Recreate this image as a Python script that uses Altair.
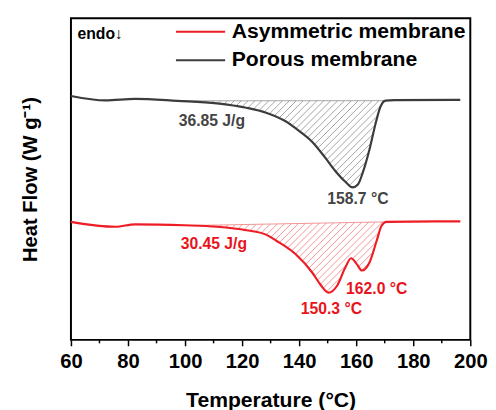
import numpy as np
import pandas as pd
import altair as alt

# ---------------- data ----------------
T_MIN, T_MAX = 60, 200
Y_MIN, Y_MAX = 0.0, 3.27
W, H = 406, 327

series_names = ["Asymmetric membrane", "Porous membrane"]
series_colors = ["#ee1c24", "#3c3c3c"]
hatch_colors = ["#f07a7a", "#8c8c8c"]

major_ticks = [60, 80, 100, 120, 140, 160, 180, 200]
minor_ticks = [70, 90, 110, 130, 150, 170, 190]

porous_T = [60, 72.1, 82.5, 97.3, 111.2, 121.5, 128.4, 135.4, 138.8, 144.7, 149.2,
            152.6, 156.1, 158.7, 160.6, 162.3, 164.7, 166.8, 168.5, 170.3, 173.4, 196.5]
porous_HF = [2.48, 2.435, 2.45, 2.43, 2.405, 2.36, 2.31, 2.22, 2.15, 2.01, 1.85,
             1.72, 1.61, 1.55, 1.58, 1.70, 1.94, 2.20, 2.37, 2.432, 2.437, 2.44]

asym_T = [60, 75.6, 82.5, 99.8, 111.2, 121.5, 128.4, 131.9, 138.8, 144.7, 147.5,
          150.3, 153.3, 156.1, 158.2, 160.2, 162.0, 164.7, 167.2, 168.9, 170.6, 196.5]
asym_HF = [1.20, 1.15, 1.175, 1.165, 1.15, 1.115, 1.07, 1.01, 0.87, 0.68, 0.56,
           0.48, 0.55, 0.73, 0.83, 0.77, 0.705, 0.79, 1.01, 1.16, 1.20, 1.205]

# integration baselines (start, end) for the hatched melting areas
porous_base_T = [97.3, 170.3]
porous_base_HF = [2.43, 2.432]
asym_base_T = [101.0, 170.6]
asym_base_HF = [1.162, 1.20]

label_text = ["36.85 J/g", "158.7 °C", "30.45 J/g", "162.0 °C", "150.3 °C"]
label_T = [109.4, 160.6, 110.1, 167.2, 151.3]
label_HF = [2.22, 1.43, 0.97, 0.52, 0.31]
label_color = ["#444444", "#444444", "#e8141c", "#e8141c", "#e8141c"]

FONT = "Liberation Sans"


# ---------------- helpers: d3 monotoneX interpolation, hatch lines ----------------
def monotone_tangents(x, y):
    x = np.asarray(x, float); y = np.asarray(y, float)
    h = np.diff(x); s = np.diff(y) / h
    n = len(x)
    t = np.zeros(n)
    for i in range(1, n - 1):
        p = (s[i - 1] * h[i] + s[i] * h[i - 1]) / (h[i - 1] + h[i])
        t[i] = (np.sign(s[i - 1]) + np.sign(s[i])) * min(abs(s[i - 1]), abs(s[i]), 0.5 * abs(p))
    t[0] = (3 * s[0] - t[1]) / 2
    t[-1] = (3 * s[-1] - t[-2]) / 2
    return t


def monotone_eval(x, y, xq):
    x = np.asarray(x, float); y = np.asarray(y, float)
    t = monotone_tangents(x, y)
    xq = np.asarray(xq, float)
    idx = np.clip(np.searchsorted(x, xq) - 1, 0, len(x) - 2)
    h = x[idx + 1] - x[idx]
    u = (xq - x[idx]) / h
    h00 = 2 * u**3 - 3 * u**2 + 1
    h10 = u**3 - 2 * u**2 + u
    h01 = -2 * u**3 + 3 * u**2
    h11 = u**3 - u**2
    return h00 * y[idx] + h10 * h * t[idx] + h01 * y[idx + 1] + h11 * h * t[idx + 1]


def to_px(T, HF):
    return (np.asarray(T) - T_MIN) / (T_MAX - T_MIN) * W, (Y_MAX - np.asarray(HF)) / (Y_MAX - Y_MIN) * H


def to_data(px, py):
    return T_MIN + np.asarray(px) / W * (T_MAX - T_MIN), Y_MAX - np.asarray(py) / H * (Y_MAX - Y_MIN)


def hatch_segments(cT, cHF, bT, bHF, spacing=7.0):
    xa, _ = to_px(bT[0], 0)
    xb, _ = to_px(bT[1], 0)
    xs = np.arange(xa, xb, 0.2)
    Ts, _ = to_data(xs, 0)
    yc = to_px(Ts, monotone_eval(cT, cHF, Ts))[1]
    yb = to_px(Ts, np.interp(Ts, bT, bHF))[1]
    segs = []
    cmin = xa + yb.min() - 5
    cmax = xb + yc.max() + 5
    for c in np.arange(cmin, cmax, spacing):
        yl = c - xs
        inside = (yl >= yb) & (yl <= yc)
        if not inside.any():
            continue
        d = np.diff(np.concatenate([[0], inside.astype(int), [0]]))
        starts = np.where(d == 1)[0]
        ends = np.where(d == -1)[0] - 1
        for s0, e0 in zip(starts, ends):
            if e0 - s0 < 2:
                continue
            T1, Y1 = to_data(xs[s0], yl[s0])
            T2, Y2 = to_data(xs[e0], yl[e0])
            segs.append((T1, Y1, T2, Y2))
    return segs


# ---------------- tables ----------------
curves = pd.concat([
    pd.DataFrame({"T": asym_T, "HF": asym_HF, "series": series_names[0], "order": range(len(asym_T))}),
    pd.DataFrame({"T": porous_T, "HF": porous_HF, "series": series_names[1], "order": range(len(porous_T))}),
])

hatch_rows = []
for name, col, cT, cHF, bT, bHF in [
    (series_names[0], hatch_colors[0], asym_T, asym_HF, asym_base_T, asym_base_HF),
    (series_names[1], hatch_colors[1], porous_T, porous_HF, porous_base_T, porous_base_HF),
]:
    for T1, Y1, T2, Y2 in hatch_segments(cT, cHF, bT, bHF):
        hatch_rows.append({"T1": T1, "Y1": Y1, "T2": T2, "Y2": Y2, "col": col})
hatch = pd.DataFrame(hatch_rows)

baselines = pd.DataFrame({
    "T1": [asym_base_T[0], porous_base_T[0]], "Y1": [asym_base_HF[0], porous_base_HF[0]],
    "T2": [asym_base_T[1], porous_base_T[1]], "Y2": [asym_base_HF[1], porous_base_HF[1]],
    "col": hatch_colors,
})

labels = pd.DataFrame({"T": label_T, "HF": label_HF, "text": label_text, "col": label_color})
endo = pd.DataFrame({"T": [62.3], "HF": [3.11], "text": ["endo↓"]})
minor = pd.DataFrame({"T": minor_ticks})

xscale = alt.Scale(domain=[T_MIN, T_MAX], nice=False, zero=False)
yscale = alt.Scale(domain=[Y_MIN, Y_MAX], nice=False, zero=False)

x_axis = alt.Axis(
    title="Temperature (°C)",
    values=major_ticks,
    ticks=True, tickSize=6, tickWidth=1.5, tickColor="black", domain=False, grid=False,
    labelFont=FONT, labelFontSize=20.5, labelFontWeight="bold", labelColor="black",
    labelPadding=6, labelOverlap=False, labelFlush=False,
    titleFont=FONT, titleFontSize=21.5, titleFontWeight="bold", titleColor="black", titlePadding=18,
)
y_axis = alt.Axis(
    title="Heat Flow (W g⁻¹)", labels=False, ticks=False, domain=False, grid=False,
    titleFont=FONT, titleFontSize=20.5, titleFontWeight="bold", titleColor="black", titlePadding=31,
)


def X(field):
    return alt.X(field, scale=xscale, axis=x_axis, title="Temperature (°C)")


def Y(field):
    return alt.Y(field, scale=yscale, axis=y_axis, title="Heat Flow (W g⁻¹)")


hatch_layer = alt.Chart(hatch).mark_rule(strokeWidth=0.8).encode(
    x=X("T1:Q"), y=Y("Y1:Q"),
    x2="T2:Q", y2="Y2:Q",
    color=alt.Color("col:N", scale=None),
)

base_layer = alt.Chart(baselines).mark_rule(strokeWidth=0.8).encode(
    x=X("T1:Q"), y=Y("Y1:Q"),
    x2="T2:Q", y2="Y2:Q",
    color=alt.Color("col:N", scale=None),
)

minor_layer = alt.Chart(minor).mark_rule(strokeWidth=1.5, color="black", clip=False).encode(
    x=X("T:Q"), y=alt.value(H), y2=alt.value(H + 3.5),
)

line_layer = alt.Chart(curves).mark_line(strokeWidth=2.2, interpolate="monotone").encode(
    x=X("T:Q"), y=Y("HF:Q"),
    order="order:Q",
    color=alt.Color(
        "series:N",
        scale=alt.Scale(domain=series_names, range=series_colors),
        legend=alt.Legend(
            title=None, orient="none", legendX=121, legendY=3,
            symbolType="M-5,0H5", symbolSize=100, symbolStrokeWidth=2,
            labelFont=FONT, labelFontSize=21.5, labelFontWeight="bold", labelColor="black",
            labelOffset=21, rowPadding=6, padding=0, labelLimit=0,
        ),
    ),
)

label_layer = alt.Chart(labels).mark_text(font=FONT, fontSize=16, fontWeight="bold").encode(
    x=X("T:Q"), y=Y("HF:Q"),
    text="text:N",
    color=alt.Color("col:N", scale=None),
)

endo_layer = alt.Chart(endo).mark_text(font=FONT, fontSize=16, fontWeight="bold", align="left", color="black").encode(
    x=X("T:Q"), y=Y("HF:Q"),
    text="text:N",
)

chart = alt.layer(hatch_layer, base_layer, minor_layer, line_layer, label_layer, endo_layer).properties(
    width=W, height=H,
    padding={"left": 64, "top": 7, "right": 18, "bottom": 75},
    autosize=alt.AutoSizeParams(type="none"),
).configure_view(stroke="black", strokeWidth=2)

chart.save("out.html", embed_options={"renderer": "svg", "actions": False})
